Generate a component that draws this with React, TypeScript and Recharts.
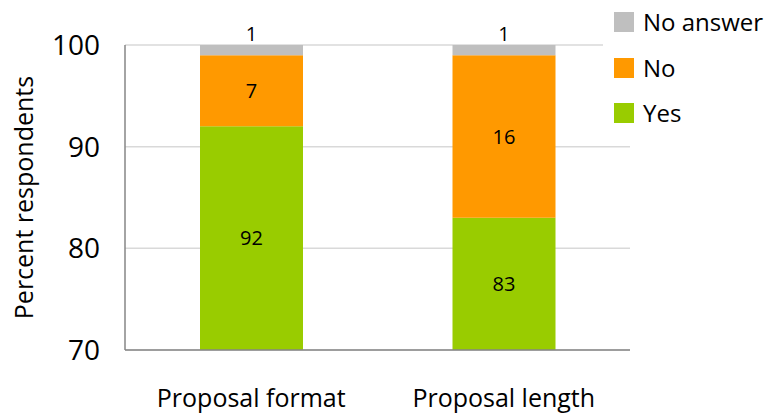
import React from 'react';
import { BarChart, Bar, XAxis, YAxis, CartesianGrid, Legend, LabelList } from 'recharts';

const categories = ['Proposal format', 'Proposal length'];
const yesValues = [92, 83];
const noValues = [7, 16];
const noAnswerValues = [1, 1];
const yTicks = [70, 80, 90, 100];

const SERIES = [
  { key: 'noAnswer', name: 'No answer', color: '#BFBFBF' },
  { key: 'no', name: 'No', color: '#FF9900' },
  { key: 'yes', name: 'Yes', color: '#99CC00' },
];

const data = categories.map((name, i) => ({
  name,
  yes: yesValues[i],
  no: noValues[i],
  noAnswer: noAnswerValues[i],
}));

const FONT = "'Open Sans', sans-serif";

const LegendBox = () => (
  <div style={{ fontFamily: FONT }}>
    {SERIES.map((s, i) => (
      <div key={s.key} style={{ position: 'absolute', left: 11, top: 12 + i * 45.5, height: 20, display: 'flex', alignItems: 'center' }}>
        <span style={{ width: 20, height: 20, background: s.color, display: 'inline-block' }} />
        <span style={{ marginLeft: 9, fontSize: 24, color: '#000', lineHeight: '20px', whiteSpace: 'nowrap' }}>{s.name}</span>
      </div>
    ))}
  </div>
);

const AxisTitle = (props: any) => {
  const { viewBox } = props;
  const x = viewBox.x + 23;
  const y = viewBox.y + viewBox.height / 2;
  return (
    <text x={x} y={y} transform={`rotate(-90, ${x}, ${y})`} textAnchor="middle" dominantBaseline="central"
          fontSize={25} fontFamily={FONT} fill="#000">
      Percent respondents
    </text>
  );
};

export default function App() {
  return (
    <div style={{ position: 'absolute', left: 0, top: 0, background: '#fff' }}>
      <BarChart width={775} height={413} data={data} barSize={103}
                margin={{ top: 45, right: 145, bottom: 0, left: 0 }}>
        <CartesianGrid vertical={false} stroke="#D9D9D9" strokeWidth={1.5} />
        <XAxis dataKey="name" height={63} tickLine={false} tickSize={6} tickMargin={33}
               axisLine={{ stroke: '#868686', strokeWidth: 1.5 }}
               tick={{ fontSize: 25, fill: '#000', fontFamily: FONT }} />
        <YAxis width={125} domain={[70, 100]} ticks={yTicks} allowDataOverflow tickLine={false}
               tickSize={6} tickMargin={19} axisLine={{ stroke: '#868686', strokeWidth: 1.5 }}
               tick={{ fontSize: 28, fill: '#000', fontFamily: FONT }}
               label={{ content: AxisTitle }} />
        <Legend layout="horizontal" verticalAlign="middle" align="center" content={<LegendBox />}
                wrapperStyle={{ position: 'absolute', left: 603, top: 0, width: 172, height: 135, background: '#fff' }} />
        <Bar dataKey="yes" name="Yes" stackId="a" fill="#99CC00" isAnimationActive={false}>
          <LabelList dataKey="yes" position="center" fill="#000" fontSize={20} fontFamily={FONT} />
        </Bar>
        <Bar dataKey="no" name="No" stackId="a" fill="#FF9900" isAnimationActive={false}>
          <LabelList dataKey="no" position="center" fill="#000" fontSize={20} fontFamily={FONT} />
        </Bar>
        <Bar dataKey="noAnswer" name="No answer" stackId="a" fill="#BFBFBF" isAnimationActive={false}>
          <LabelList dataKey="noAnswer" position="top" offset={4} fill="#000" fontSize={20} fontFamily={FONT} />
        </Bar>
      </BarChart>
    </div>
  );
}
